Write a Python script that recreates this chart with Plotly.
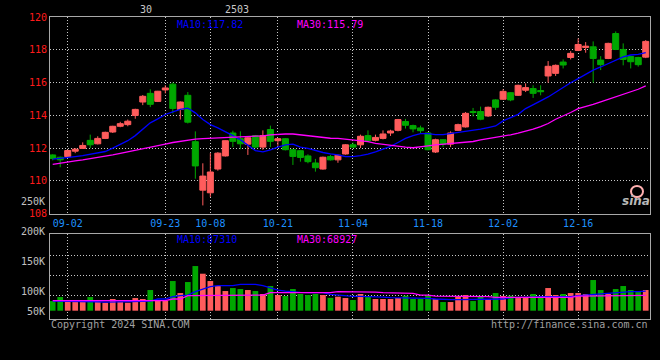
import plotly.graph_objects as go

# ---------------- data ----------------
dates = ["08-29", "08-30",
         "09-02", "09-03", "09-04", "09-05", "09-06", "09-09", "09-10", "09-11", "09-12", "09-13",
         "09-18", "09-19", "09-20", "09-23", "09-24", "09-25", "09-26", "09-27", "09-30",
         "10-08", "10-09", "10-10", "10-11", "10-14", "10-15", "10-16", "10-17", "10-18",
         "10-21", "10-22", "10-23", "10-24", "10-25", "10-28", "10-29", "10-30", "10-31", "11-01",
         "11-04", "11-05", "11-06", "11-07", "11-08", "11-11", "11-12", "11-13", "11-14", "11-15",
         "11-18", "11-19", "11-20", "11-21", "11-22", "11-25", "11-26", "11-27", "11-28", "11-29",
         "12-02", "12-03", "12-04", "12-05", "12-06", "12-09", "12-10", "12-11", "12-12", "12-13",
         "12-16", "12-17", "12-18", "12-19", "12-20", "12-23", "12-24", "12-25", "12-26", "12-27"]

opens = [111.58, 111.44, 111.48, 111.81, 111.98, 112.47, 112.26, 112.59, 112.98, 113.33,
         113.43, 113.99, 114.81, 115.34, 114.85, 115.55, 115.90, 114.36, 115.22, 112.39,
         109.43, 109.27, 110.72, 111.52, 112.92, 112.57, 112.24, 112.76, 112.06, 113.13,
         112.45, 112.57, 111.90, 111.84, 111.52, 111.09, 110.72, 111.48, 111.28, 111.64,
         112.20, 112.20, 112.76, 112.47, 112.59, 112.92, 113.08, 113.62, 113.37, 113.23,
         112.92, 111.76, 112.51, 112.24, 113.08, 113.29, 114.23, 114.23, 113.96, 114.94,
         114.98, 115.38, 115.22, 115.53, 115.63, 115.51, 116.40, 116.56, 117.25, 117.53,
         117.96, 118.14, 118.18, 117.37, 117.47, 118.99, 118.02, 117.59, 117.53, 117.55]
highs = [111.62, 111.48, 111.90, 112.00, 112.35, 112.82, 112.72, 113.00, 113.36, 113.60,
         113.74, 114.40, 115.24, 115.59, 115.49, 115.84, 116.00, 114.85, 115.42, 113.02,
         111.07, 111.69, 111.75, 112.47, 113.06, 113.02, 112.68, 112.80, 113.08, 113.37,
         112.60, 112.60, 111.92, 111.86, 111.62, 111.34, 111.48, 111.58, 111.60, 112.24,
         112.34, 112.82, 113.08, 112.82, 113.08, 113.12, 113.78, 113.78, 113.43, 113.37,
         112.96, 112.57, 112.55, 113.02, 113.49, 114.20, 114.45, 114.53, 114.53, 114.98,
         115.59, 115.42, 115.87, 115.95, 115.83, 115.83, 117.31, 117.10, 117.41, 117.92,
         118.69, 118.47, 118.51, 117.61, 118.43, 119.12, 118.39, 117.63, 117.57, 118.59]
lows = [111.25, 110.83, 111.44, 111.69, 111.95, 112.00, 112.22, 112.55, 112.92, 113.27,
        113.33, 113.79, 114.62, 114.50, 114.81, 115.34, 114.11, 113.74, 113.50, 110.13,
        108.50, 109.02, 110.62, 111.48, 112.06, 111.93, 111.58, 112.00, 111.90, 112.06,
        112.14, 111.86, 110.97, 111.17, 111.07, 110.56, 110.68, 111.24, 111.10, 111.60,
        112.00, 112.00, 112.40, 112.41, 112.53, 112.74, 113.02, 113.19, 112.96, 112.92,
        111.86, 111.70, 112.06, 112.06, 113.04, 113.25, 113.93, 113.70, 113.90, 114.33,
        114.94, 114.86, 115.18, 115.42, 115.06, 115.22, 115.99, 116.40, 116.86, 117.41,
        117.92, 117.82, 115.99, 116.76, 117.43, 117.98, 117.05, 116.86, 116.97, 117.49]
closes = [111.36, 111.28, 111.85, 111.93, 112.16, 112.20, 112.59, 112.96, 113.33, 113.49,
          113.64, 114.36, 115.16, 114.67, 115.47, 115.67, 114.42, 114.81, 113.58, 110.91,
          110.29, 110.54, 111.69, 112.45, 112.41, 112.26, 112.63, 112.06, 112.76, 112.41,
          112.57, 111.90, 111.49, 111.43, 111.17, 110.80, 111.44, 111.28, 111.56, 112.20,
          112.06, 112.72, 112.45, 112.65, 112.86, 113.04, 113.74, 113.39, 113.17, 113.06,
          111.90, 112.51, 112.24, 112.92, 113.43, 114.12, 114.17, 113.76, 114.49, 114.49,
          115.46, 114.94, 115.83, 115.69, 115.34, 115.44, 116.99, 117.05, 117.07, 117.78,
          118.32, 118.22, 117.47, 117.09, 118.39, 118.02, 117.41, 117.27, 117.09, 118.51]

ma10 = [111.32, 111.36, 111.40, 111.48, 111.54, 111.63, 111.69, 111.79, 112.00, 112.20,
        112.45, 112.76, 113.13, 113.54, 113.78, 114.05, 114.21, 114.36, 114.44, 114.15,
        113.74, 113.43, 113.23, 113.02, 112.76, 112.51, 112.20, 111.85, 111.77, 111.89,
        112.06, 112.20, 112.24, 112.06, 111.98, 111.85, 111.73, 111.65, 111.59, 111.48,
        111.48, 111.54, 111.63, 111.77, 111.93, 112.10, 112.34, 112.59, 112.76, 112.88,
        112.88, 112.82, 112.82, 112.88, 112.94, 113.00, 113.05, 113.15, 113.25, 113.35,
        113.66, 113.86, 114.06, 114.41, 114.67, 114.88, 115.12, 115.42, 115.69, 115.99,
        116.24, 116.50, 116.76, 116.95, 117.15, 117.37, 117.57, 117.68, 117.72, 117.82]
ma30 = [111.01, 111.09, 111.17, 111.22, 111.28, 111.35, 111.42, 111.50, 111.59, 111.68,
        111.77, 111.85, 111.93, 112.03, 112.14, 112.24, 112.34, 112.42, 112.51, 112.55,
        112.58, 112.60, 112.62, 112.63, 112.64, 112.65, 112.67, 112.70, 112.75, 112.80,
        112.84, 112.86, 112.86, 112.80, 112.74, 112.71, 112.66, 112.60, 112.59, 112.55,
        112.48, 112.45, 112.39, 112.28, 112.22, 112.14, 112.08, 112.06, 112.02, 112.06,
        112.14, 112.20, 112.24, 112.26, 112.32, 112.37, 112.40, 112.50, 112.58, 112.64,
        112.70, 112.81, 112.91, 113.01, 113.15, 113.31, 113.50, 113.76, 113.96, 114.17,
        114.41, 114.53, 114.67, 114.82, 114.98, 115.14, 115.28, 115.42, 115.59, 115.79]

volume = [43300, 61200, 44800, 38800, 38800, 61200, 38800, 35800, 52300, 38800,
          35800, 56700, 52300, 92600, 47800, 44800, 132900, 79100, 128400, 200000,
          165700, 132900, 110500, 88100, 101500, 97000, 92600, 88100, 74700, 110500,
          70200, 65700, 97000, 74700, 70200, 74700, 70200, 57500, 62700, 56700,
          47800, 74700, 65700, 52300, 52300, 52300, 56700, 67200, 52300, 52300,
          68700, 52300, 38800, 38800, 62700, 70200, 43300, 62700, 52300, 79100,
          65700, 67200, 56700, 56700, 74700, 62700, 101500, 70200, 74700, 79100,
          79100, 74700, 137400, 92600, 74700, 97000, 110500, 92600, 83600, 92600]
vol_ma10 = [43300, 43300, 43300, 43300, 43300, 43300, 40000, 38800, 38800, 38800,
            38800, 42000, 42000, 43300, 52300, 52300, 62700, 67200, 70200, 85100,
            97000, 107400, 112000, 112000, 112000, 118000, 118000, 118000, 112000, 103000,
            92600, 88100, 83600, 82100, 80600, 80600, 80600, 73000, 70200, 64200,
            64200, 64200, 64200, 62700, 61200, 58200, 58200, 56700, 56700, 55200,
            55200, 52300, 49300, 49300, 49300, 49300, 52300, 52300, 52300, 52300,
            52300, 58200, 58200, 58200, 61200, 62700, 62700, 62700, 62700, 62700,
            67200, 70200, 70200, 73200, 77600, 82100, 85100, 85100, 85100, 87310]
vol_ma30 = [44800, 44800, 44800, 44800, 44800, 44800, 44800, 44800, 44800, 44800,
            44800, 44800, 44800, 44800, 44800, 44800, 52300, 52300, 67200, 67200,
            67200, 67200, 67200, 67200, 67200, 70200, 70200, 70200, 70200, 80600,
            80600, 80600, 80600, 80600, 80600, 80600, 80600, 80600, 85100, 85100,
            85100, 85100, 83600, 83600, 80600, 80600, 80600, 77600, 77600, 70200,
            70200, 65700, 65700, 62700, 62700, 62700, 62700, 62700, 62700, 59700,
            59700, 59700, 59700, 59700, 59700, 59700, 59700, 59700, 59700, 59700,
            65700, 65700, 65700, 65700, 65700, 65700, 68700, 68700, 68700, 68927]

tick_labels = ["09-02", "09-23", "10-08", "10-21", "11-04", "11-18", "12-02", "12-16"]
price_ticks = [108, 110, 112, 114, 116, 118, 120]
vol_grid = [69000, 158600, 248200]
vol_labels = ["200K", "150K", "100K", "50K"]

# ---------------- style ----------------
UP = "#ff5c5c"
DN = "#00a800"
BLUE = "#0000ff"
MAG = "#ff00ff"
GRID = "#c8c8c8"
BORDER = "#a8a8a8"
MONO = "DejaVu Sans Mono"

idx = list(range(len(dates)))
tick_idx = [dates.index(t) for t in tick_labels]
bar_colors = [UP if c >= o else DN for o, c in zip(opens, closes)]

fig = go.Figure()
fig.add_trace(go.Candlestick(
    x=idx, open=opens, high=highs, low=lows, close=closes,
    increasing=dict(line=dict(color=UP, width=1), fillcolor=UP),
    decreasing=dict(line=dict(color=DN, width=1), fillcolor=DN),
    whiskerwidth=0, hoverinfo="skip", xaxis="x", yaxis="y"))
fig.add_trace(go.Scatter(x=idx, y=ma10, mode="lines", line=dict(color=BLUE, width=1.3),
                         hoverinfo="skip", xaxis="x", yaxis="y"))
fig.add_trace(go.Scatter(x=idx, y=ma30, mode="lines", line=dict(color=MAG, width=1.3),
                         hoverinfo="skip", xaxis="x", yaxis="y"))

fig.add_trace(go.Bar(x=idx, y=volume, marker=dict(color=bar_colors, line=dict(width=0)),
                     width=0.76, hoverinfo="skip", xaxis="x2", yaxis="y2"))
fig.add_trace(go.Scatter(x=idx, y=vol_ma10, mode="lines", line=dict(color=BLUE, width=1.3),
                         hoverinfo="skip", xaxis="x2", yaxis="y2"))
fig.add_trace(go.Scatter(x=idx, y=vol_ma30, mode="lines", line=dict(color=MAG, width=1.3),
                         hoverinfo="skip", xaxis="x2", yaxis="y2"))

common_x = dict(range=[-0.36, 79.57], tickvals=tick_idx, showgrid=True, gridcolor=GRID,
                griddash="1px,2px", gridwidth=1, showline=True, mirror=True,
                linecolor=BORDER, linewidth=1, zeroline=False, ticks="", fixedrange=True)

fig.update_layout(
    width=660, height=360,
    margin=dict(l=50, r=10, t=17, b=41),
    paper_bgcolor="black", plot_bgcolor="black",
    showlegend=False,
    boxgap=0.2, boxgroupgap=0,
    xaxis=dict(**common_x, domain=[0, 1], anchor="y", ticktext=tick_labels,
               tickfont=dict(family=MONO, size=10, color="#1e90ff"),
               rangeslider=dict(visible=False)),
    yaxis=dict(domain=[0.349, 1], range=[108, 120], tickvals=price_ticks,
               tickfont=dict(family=MONO, size=10, color="#ff1a1a"),
               showgrid=True, gridcolor=GRID, griddash="1px,2px", gridwidth=1,
               showline=True, mirror=True, linecolor=BORDER, linewidth=1,
               zeroline=False, ticks="", fixedrange=True),
    xaxis2=dict(**common_x, domain=[0, 1], anchor="y2", matches="x", showticklabels=False),
    yaxis2=dict(domain=[0, 0.2805], range=[-37200, 342300], tickvals=vol_grid,
                showticklabels=False, showgrid=True, gridcolor=GRID, griddash="1px,2px",
                gridwidth=1, showline=True, mirror=True, linecolor=BORDER, linewidth=1,
                zeroline=False, ticks="", fixedrange=True),
)

def px_x(p):
    return (p - 50) / 600.0

def px_y(p):
    return (319 - p) / 302.0

ann = []
def label(text, x, y, color, xanchor="left", size=10, **kw):
    ann.append(dict(text=text, x=px_x(x), y=px_y(y), xref="paper", yref="paper",
                    xanchor=xanchor, yanchor="middle", showarrow=False,
                    font=dict(family=MONO, size=size, color=color), **kw))

label("MA10:%.2f" % ma10[-1], 175, 24, BLUE)
label("MA30:%.2f" % ma30[-1], 295, 24, MAG)
label("MA10:%d" % vol_ma10[-1], 175, 239, BLUE)
label("MA30:%d" % vol_ma30[-1], 295, 239, MAG)
label("30", 146, 10, "#c8c8c8", xanchor="center")
label("2503", 237, 10, "#c8c8c8", xanchor="center")
label("250K", 47, 201, "#c0c0c0", xanchor="right")
for t, yy in zip(vol_labels, [231, 261, 291, 311]):
    label(t, 47, yy, "#c0c0c0", xanchor="right")
label("Copyright 2024 SINA.COM", 49, 324, "#a0a0a0")
label("http://finance.sina.com.cn", 650, 324, "#a0a0a0", xanchor="right")
ann.append(dict(text="<b><i>sina</i></b>", x=px_x(636), y=px_y(201), xref="paper", yref="paper",
                xanchor="center", yanchor="middle", showarrow=False,
                font=dict(family="DejaVu Sans", size=12, color="#b8b8b8")))
fig.update_layout(annotations=ann)
fig.add_shape(type="circle", xref="paper", yref="paper",
              x0=px_x(631), x1=px_x(643), y0=px_y(197), y1=px_y(186),
              line=dict(color="#ffb0b0", width=2))

fig.write_html("out.html", config={"staticPlot": True},
               post_script="document.body.style.margin='0';document.body.style.background='black';")
